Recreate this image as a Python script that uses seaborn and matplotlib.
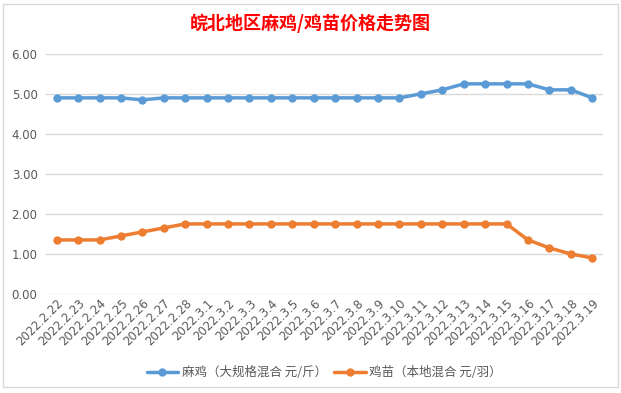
import matplotlib
matplotlib.use("Agg")
import matplotlib.pyplot as plt
import seaborn as sns
import pandas as pd
from matplotlib.patches import Rectangle

dates = ["2022.2.22", "2022.2.23", "2022.2.24", "2022.2.25", "2022.2.26", "2022.2.27", "2022.2.28",
         "2022.3.1", "2022.3.2", "2022.3.3", "2022.3.4", "2022.3.5", "2022.3.6", "2022.3.7",
         "2022.3.8", "2022.3.9", "2022.3.10", "2022.3.11", "2022.3.12", "2022.3.13", "2022.3.14",
         "2022.3.15", "2022.3.16", "2022.3.17", "2022.3.18", "2022.3.19"]
mage = [4.90, 4.90, 4.90, 4.90, 4.85, 4.90, 4.90, 4.90, 4.90, 4.90, 4.90, 4.90, 4.90, 4.90,
        4.90, 4.90, 4.90, 5.00, 5.10, 5.25, 5.25, 5.25, 5.25, 5.10, 5.10, 4.90]
chick = [1.35, 1.35, 1.35, 1.45, 1.55, 1.65, 1.75, 1.75, 1.75, 1.75, 1.75, 1.75, 1.75, 1.75,
         1.75, 1.75, 1.75, 1.75, 1.75, 1.75, 1.75, 1.75, 1.35, 1.15, 1.00, 0.90]
series_names = ["麻鸡（大规格混合 元/斤）", "鸡苗（本地混合 元/羽）"]
yticks = [0, 1, 2, 3, 4, 5, 6]
title = "皖北地区麻鸡/鸡苗价格走势图"

sns.set_theme(style="white")
plt.rcParams['font.family'] = ['Noto Sans CJK SC', 'DejaVu Sans']

df = pd.DataFrame({
    "date": dates * 2,
    "value": mage + chick,
    "series": [series_names[0]] * len(dates) + [series_names[1]] * len(dates),
})

fig = plt.figure(figsize=(6.21, 3.93), dpi=100)
ax = fig.add_axes([0.074, 0.252, 0.897, 0.611])
palette = {series_names[0]: "#5B9BD5", series_names[1]: "#ED7D31"}
sns.lineplot(data=df, x="date", y="value", hue="series", palette=palette, sort=False,
             marker="o", markersize=6, markeredgewidth=0, linewidth=2.5, ax=ax)

ax.set_xlim(-0.5, len(dates) - 0.5)
ax.set_ylim(0, 6)
ax.set_yticks(yticks)
ax.set_yticklabels([f"{v:.2f}" for v in yticks], fontsize=8.5, color="#595959",
                   family=['DejaVu Sans'])
ax.yaxis.grid(True, color="#D9D9D9", linewidth=1)
ax.set_axisbelow(True)
ax.tick_params(axis="y", length=0, pad=6)
ax.tick_params(axis="x", length=0, pad=2)
plt.setp(ax.get_xticklabels(), rotation=45, ha="right", rotation_mode="anchor",
         fontsize=8.5, color="#595959", family=['DejaVu Sans'])
ax.set_xlabel("")
ax.set_ylabel("")
for s in ax.spines.values():
    s.set_visible(False)

leg = ax.legend(loc="upper center", bbox_to_anchor=(0.5, -0.255), ncol=2, frameon=False,
                fontsize=9, handlelength=2.5, columnspacing=0.6, handletextpad=0.3)
for t in leg.get_texts():
    t.set_color("#595959")

fig.text(0.5, 0.94, title, ha="center", va="center", fontsize=13, fontweight="bold",
         color="#FF0000")
fig.patches.append(Rectangle((0.005, 0.015), 0.99, 0.975, transform=fig.transFigure,
                             fill=False, edgecolor="#D9D9D9", linewidth=1))

fig.savefig("out.png", dpi=100, facecolor="white")
